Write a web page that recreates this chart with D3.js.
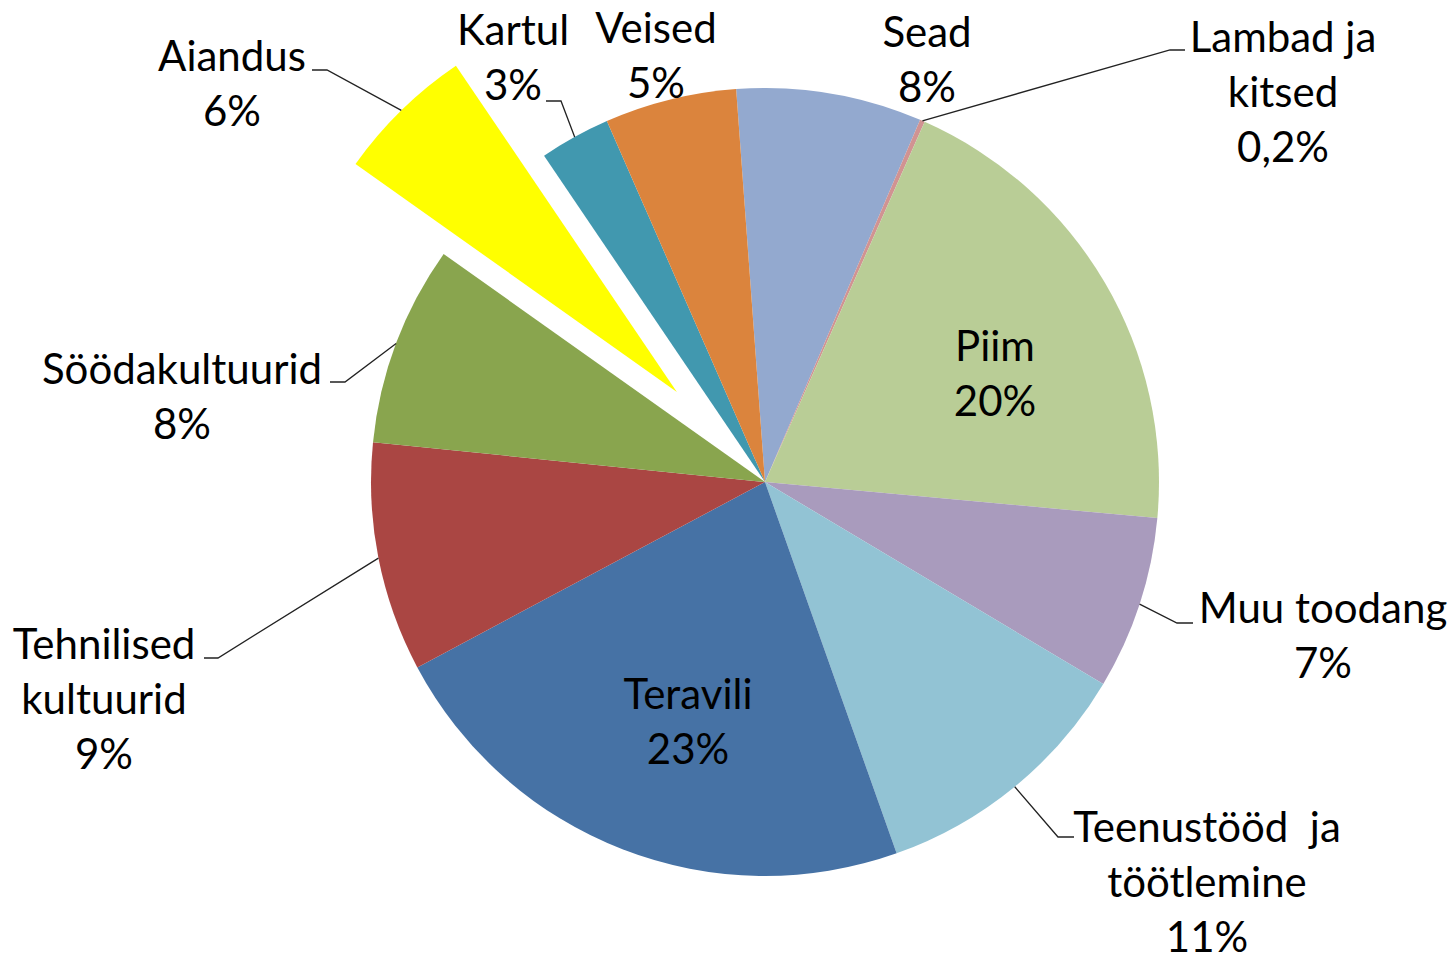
<!DOCTYPE html>
<html>
<head>
<meta charset="utf-8">
<script src="https://cdn.jsdelivr.net/npm/d3@7"></script>
<style>
  body { margin: 0; background: #fff; }
  text { font-family: Lato, 'Open Sans', sans-serif; fill: #000; white-space: pre; }
</style>
</head>
<body>
<svg id="canvas"></svg>
<script>
// slices clockwise, starting at the one just left of 12 o'clock
const categories = ['Sead', 'Lambad ja kitsed', 'Piim', 'Muu toodang', 'Teenustööd ja töötlemine',
                    'Teravili', 'Tehnilised kultuurid', 'Söödakultuurid', 'Aiandus', 'Kartul', 'Veised']
const values = [7.6, 0.2, 19.8, 7.1, 11.0, 22.6, 9.4, 8.2, 5.7, 2.9, 5.4]
const colors = ['#93A9CF', '#D19392', '#B9CD96', '#A99BBD', '#92C3D4',
                '#4672A5', '#AA4643', '#89A54E', '#FFFF00', '#4198AF', '#DB843D']
const exploded = ['Aiandus']

const w = 1456
const h = 962
const cx = 765
const cy = 482
const radius = 394
const explodeBy = 126
const rotation = -4.2 * Math.PI / 180
const lineGap = 55

// where Excel put the data labels (x = text centre, y = first baseline)
// leader: [elbowX, elbowY, endX] -> line runs slice edge -> elbow -> end
const labelLayout = [
  { lines: ['Sead'], x: 927, y: 47 },
  { lines: ['Lambad ja', 'kitsed'], x: 1283, y: 52, leader: [1170, 50, 1185] },
  { lines: ['Piim'], x: 995, y: 361 },
  { lines: ['Muu toodang'], x: 1323, y: 623, leader: [1177, 623, 1193] },
  { lines: ['Teenustööd  ja', 'töötlemine'], x: 1207, y: 842, leader: [1058, 837, 1074] },
  { lines: ['Teravili'], x: 688, y: 709 },
  { lines: ['Tehnilised', 'kultuurid'], x: 104, y: 659, leader: [218, 658, 204] },
  { lines: ['Söödakultuurid'], x: 182, y: 384, leader: [345, 382, 330] },
  { lines: ['Aiandus'], x: 232, y: 71, leader: [327, 70, 312] },
  { lines: ['Kartul'], x: 513, y: 45, leader: [561, 101, 546] },
  { lines: ['Veised'], x: 656, y: 43 }
]

const total = d3.sum(values)
const pctText = v => {
  const p = v / total * 100
  return (p < 1 ? d3.format('.1f')(p).replace('.', ',') : Math.round(p)) + '%'
}

const canvas = d3.select('#canvas').attr('width', w).attr('height', h)

const pie = d3.pie()
              .sort(null)
              .value(d => d.value)
              .startAngle(rotation)
              .endAngle(rotation + 2 * Math.PI)

const slices = pie(values.map((v, i) => ({ name: categories[i], value: v, color: colors[i] })))

const arc = d3.arc().innerRadius(0).outerRadius(radius)

const polar = (a, r) => [Math.sin(a) * r, -Math.cos(a) * r]
const midAngle = s => (s.startAngle + s.endAngle) / 2
const offsetOf = s => exploded.includes(s.data.name) ? polar(midAngle(s), explodeBy) : [0, 0]

const pieGroup = canvas.append('g').attr('transform', `translate(${cx},${cy})`)

pieGroup.selectAll('path')
        .data(slices)
        .enter()
        .append('path')
        .attr('d', arc)
        .attr('fill', s => s.data.color)
        .attr('transform', s => `translate(${offsetOf(s)})`)

// leader lines
slices.forEach((s, i) => {
  const lay = labelLayout[i]
  if (!lay.leader) return
  const off = offsetOf(s)
  const p = polar(midAngle(s), radius)
  const start = [cx + off[0] + p[0], cy + off[1] + p[1]]
  const [ex, ey, endX] = lay.leader
  canvas.append('path')
        .attr('d', d3.line()([start, [ex, ey], [endX, ey]]))
        .attr('fill', 'none')
        .attr('stroke', '#222')
        .attr('stroke-width', 1.3)
})

// data labels
slices.forEach((s, i) => {
  const lay = labelLayout[i]
  const lines = lay.lines.concat([pctText(s.data.value)])
  const t = canvas.append('text')
                  .attr('text-anchor', 'middle')
                  .attr('font-size', 42)
  lines.forEach((line, j) => {
    t.append('tspan')
     .attr('x', lay.x)
     .attr('y', lay.y + j * lineGap)
     .text(line)
  })
})
</script>
</body>
</html>
